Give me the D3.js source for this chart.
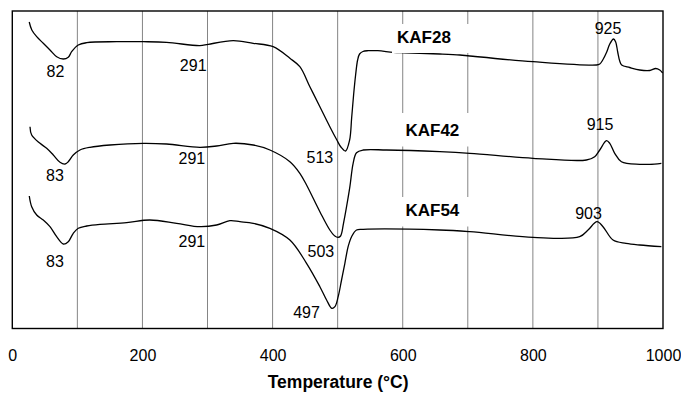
<!DOCTYPE html>
<html>
<head>
<meta charset="utf-8">
<script src="https://cdn.jsdelivr.net/npm/d3@7/dist/d3.min.js"></script>
<style>
  html, body { margin: 0; padding: 0; background: #fff; }
  svg { display: block; }
  text { font-family: "Liberation Sans", Arial, Helvetica, sans-serif; fill: #000; }
</style>
</head>
<body>
<svg id="chart" width="681" height="394"></svg>
<script>
// ---------- data (temperature °C, DTA signal in arbitrary units) ----------
const seriesNames = ["KAF28", "KAF42", "KAF54"];

const kaf28T = [26, 30, 37.5, 47.6, 57.9, 68.2, 78.3, 86, 91.2, 101.4, 114.3, 160.4, 201.2, 237.2, 288.3, 301.1, 339.5, 370.2, 400.9, 426.6, 441.9, 457.3, 472.7, 488, 498.8, 505, 512, 518.4, 521.5, 524.5, 527.6, 530.7, 533.7, 538.8, 546.8, 561.7, 585.3, 603.2, 626.2, 657, 687.8, 703.1, 800.3, 897.7, 902.8, 907.4, 913.5, 918.2, 924, 927.3, 930.4, 933.5, 936.5, 948.8, 964.2, 979.5, 988.8, 995, 999.5];
const kaf28V = [306.5, 298.5, 291.8, 285.2, 278.5, 271.8, 269.5, 271.2, 276.8, 283.5, 285.8, 286.8, 286.8, 286.2, 282.8, 284.2, 287.8, 285.2, 281.8, 270.2, 261.8, 241.8, 221.8, 201.8, 188.5, 181.5, 177.5, 188.5, 210.5, 233.5, 253.5, 268.5, 274.5, 277, 277.8, 277.8, 276.2, 275.7, 275.2, 274.5, 273.5, 272.5, 266.8, 263.5, 264.5, 268.5, 276.5, 284.5, 289.5, 286.5, 276.5, 267.5, 263.5, 261, 258.5, 258, 260, 258.5, 255.5];

const kaf42T = [27.2, 29.8, 42.6, 52.8, 63, 73.3, 81, 86, 93.7, 104, 119.4, 150.1, 201.2, 237.2, 288.3, 314, 339.5, 370.2, 395.9, 426.6, 441.9, 452.2, 472.7, 488, 495.7, 500.5, 504.5, 509, 513.7, 518.8, 523.8, 529, 539.2, 575.1, 657, 703.1, 800.3, 882.3, 895, 902.8, 913.1, 918.2, 925.8, 936.1, 964.2, 979.5, 997.5];
const kaf42V = [201.8, 193.5, 185.2, 180.2, 173.5, 166.2, 164.5, 166.8, 173.5, 178.5, 181.2, 183.5, 185.2, 184.5, 181.2, 182.5, 185.2, 183.5, 178.5, 166.8, 155.2, 143.5, 116.8, 98.5, 92.5, 91.2, 92.5, 105.2, 121.8, 141.8, 165.2, 175.8, 178.5, 178.5, 176.8, 175.2, 170.2, 168.5, 171.8, 178.5, 187.8, 185.2, 175.2, 166.8, 164.2, 164.2, 165.2];

const kaf54T = [26.1, 29.8, 37.5, 47.6, 57.9, 68.2, 78.3, 86, 93.7, 101.4, 114.3, 134.7, 175.7, 211.4, 252.5, 288.3, 314, 334.4, 349.8, 370.2, 395.9, 426.6, 452.2, 472.7, 483, 491, 495.8, 500.8, 506, 511.1, 516.1, 521.4, 529, 539.2, 657, 703.1, 800.3, 872, 884.8, 898.6, 907.8, 923.2, 943.2, 964.2, 997.5];
const kaf54V = [132.5, 121.8, 113.5, 108.5, 101.8, 91.8, 84.5, 86.8, 95.2, 100.2, 102.5, 104.2, 105.8, 108.5, 105.2, 101.8, 103.5, 107.8, 106.8, 105.2, 100.2, 88.5, 65.2, 41.8, 28.5, 20.2, 21.8, 31.8, 48.5, 65.2, 81.8, 91.8, 98.5, 99.2, 98.5, 96.8, 91.2, 91.8, 98.5, 106.8, 101.8, 88.5, 85.2, 83.5, 81.8];

// peak annotations: label text, series index
const peakLabels = ["82", "291", "513", "925", "83", "291", "503", "915", "83", "291", "497", "903"];
const peakSeries = [0, 0, 0, 0, 1, 1, 1, 1, 2, 2, 2, 2];

const xTickLabels = [0, 200, 400, 600, 800, 1000];
const xTitle = "Temperature (°C)";

// ---------- layout ----------
const W = 681, H = 394;
const plot = { left: 12.3, right: 663, top: 11, bottom: 328.5 };

const x = d3.scaleLinear().domain([0, 1000]).range([plot.left, plot.right]);
const y = d3.scaleLinear().domain([0, 317.5]).range([plot.bottom, plot.top]);

// annotation anchor positions (T, value) for text centre / baseline
const peakPos = [
  [66.4, 251.8], [278, 257.8], [472.7, 165.2], [915.5, 294.7],
  [65.6, 147.8], [276, 164.5], [474.2, 71.2], [903.2, 198.5],
  [65.6, 61.8], [276, 81.8], [452.2, 10.2], [885.6, 109.2]
];
// series name label positions (text centre T, baseline value) and white box (T0,T1,v0,v1)
const namePos = [[632.7, 285.8], [645.6, 192.8], [645.6, 112.5]];
const nameBox = [[583.5, 706, 304.5, 275.5], [583.5, 706, 215.5, 182], [583.5, 706, 131.5, 102]];

const svg = d3.select("#chart");

// vertical gridlines
svg.append("g")
  .selectAll("line")
  .data(d3.range(100, 1000, 100))
  .join("line")
  .attr("x1", d => x(d)).attr("x2", d => x(d))
  .attr("y1", plot.top).attr("y2", plot.bottom)
  .attr("stroke", "#777").attr("stroke-width", 0.9);

// curves
const seriesT = [kaf28T, kaf42T, kaf54T];
const seriesV = [kaf28V, kaf42V, kaf54V];
const line = d3.line()
  .x(d => x(d[0])).y(d => y(d[1]))
  .curve(d3.curveCatmullRom.alpha(0.5));

seriesNames.forEach((name, i) => {
  const pts = seriesT[i].map((t, j) => [t, seriesV[i][j]]);
  svg.append("path")
    .datum(pts)
    .attr("d", line)
    .attr("fill", "none")
    .attr("stroke", "#000")
    .attr("stroke-width", 1.3)
    .attr("stroke-linejoin", "round");
});

// white boxes behind series names
svg.append("g")
  .selectAll("rect")
  .data(nameBox)
  .join("rect")
  .attr("x", d => x(d[0])).attr("width", d => x(d[1]) - x(d[0]))
  .attr("y", d => y(d[2])).attr("height", d => y(d[3]) - y(d[2]))
  .attr("fill", "#fff");

// series names
svg.append("g")
  .selectAll("text")
  .data(seriesNames)
  .join("text")
  .attr("x", (d, i) => x(namePos[i][0]))
  .attr("y", (d, i) => y(namePos[i][1]))
  .attr("text-anchor", "middle")
  .attr("font-size", 17)
  .attr("font-weight", "bold")
  .text(d => d);

// peak labels
svg.append("g")
  .selectAll("text")
  .data(peakLabels)
  .join("text")
  .attr("x", (d, i) => x(peakPos[i][0]))
  .attr("y", (d, i) => y(peakPos[i][1]))
  .attr("text-anchor", "middle")
  .attr("font-size", 16)
  .text(d => d);

// frame
svg.append("rect")
  .attr("x", plot.left).attr("y", plot.top)
  .attr("width", plot.right - plot.left).attr("height", plot.bottom - plot.top)
  .attr("fill", "none").attr("stroke", "#000").attr("stroke-width", 1.4);

// x axis
const axis = d3.axisBottom(x)
  .tickValues(xTickLabels)
  .tickSize(0)
  .tickPadding(20.8)
  .tickFormat(d3.format("d"));
const gAxis = svg.append("g")
  .attr("transform", `translate(0,${plot.bottom})`)
  .call(axis);
gAxis.select(".domain").remove();
gAxis.selectAll("text")
  .attr("font-size", 16)
  .attr("font-family", "'Liberation Sans', Arial, sans-serif")
  .attr("fill", "#000");

// axis title
svg.append("text")
  .attr("x", x(500) + 0.5)
  .attr("y", 388)
  .attr("text-anchor", "middle")
  .attr("font-size", 17.5)
  .attr("font-weight", "bold")
  .text(xTitle);
</script>
</body>
</html>
